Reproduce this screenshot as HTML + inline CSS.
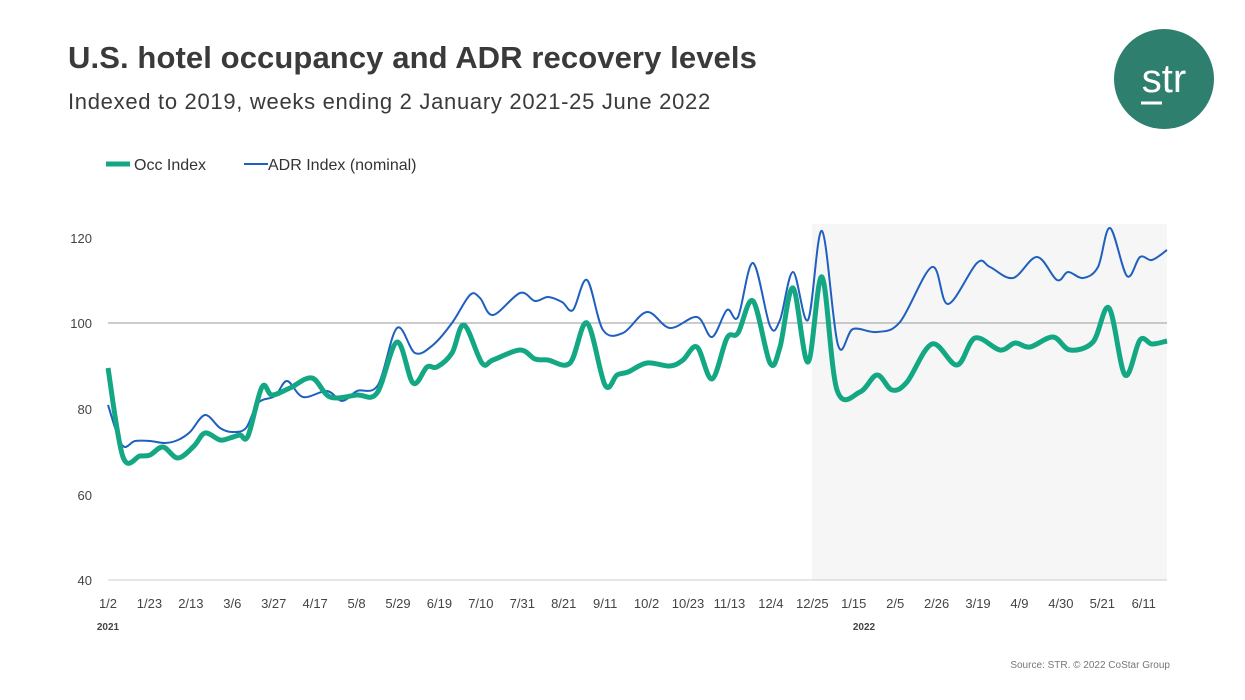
<!DOCTYPE html>
<html><head><meta charset="utf-8"><style>
body{margin:0;width:1245px;height:700px;background:#fff;font-family:"Liberation Sans",sans-serif;position:relative;overflow:hidden}
.t{position:absolute;color:#333}
</style></head><body>
<div class="t" style="left:68px;top:40px;font-size:31px;font-weight:bold;color:#3a3a3a;letter-spacing:0.1px">U.S. hotel occupancy and ADR recovery levels</div>
<div class="t" style="left:68px;top:89px;font-size:22px;color:#3a3a3a;letter-spacing:0.7px">Indexed to 2019, weeks ending 2 January 2021-25 June 2022</div>
<svg width="1245" height="700" style="position:absolute;left:0;top:0">
<circle cx="1164" cy="79" r="50" fill="#2e7f6e"/>
<text x="1164" y="92" font-size="40" fill="#fff" text-anchor="middle" font-family="Liberation Sans">str</text>
<line x1="1141" y1="103" x2="1162" y2="103" stroke="#fff" stroke-width="3"/>
<line x1="106" y1="164" x2="130" y2="164" stroke="#13a883" stroke-width="5"/>
<text x="134" y="170" font-size="16" fill="#333">Occ Index</text>
<line x1="244" y1="164" x2="268" y2="164" stroke="#1f5fbf" stroke-width="2"/>
<text x="268" y="170" font-size="16" fill="#333">ADR Index (nominal)</text>
<rect x="812" y="224" width="355" height="356" fill="#f6f6f6"/>
<line x1="108" y1="323" x2="1167" y2="323" stroke="#999" stroke-width="1"/>
<line x1="108" y1="580" x2="1167" y2="580" stroke="#ccc" stroke-width="1"/>
<g font-size="13" fill="#444" text-anchor="end">
<text x="92" y="243">120</text><text x="92" y="328">100</text><text x="92" y="414">80</text><text x="92" y="500">60</text><text x="92" y="585">40</text>
</g>
<g font-size="13" fill="#444" text-anchor="middle" id="xl"></g>
<text x="108" y="630" font-size="10" font-weight="bold" fill="#444" text-anchor="middle">2021</text>
<text x="864" y="630" font-size="10" font-weight="bold" fill="#444" text-anchor="middle">2022</text>
<path id="adr" fill="none" stroke="#1f5fbf" stroke-width="2"/>
<path id="occ" fill="none" stroke="#13a883" stroke-width="5" stroke-linejoin="round"/>
<text x="1170" y="668" font-size="10" fill="#777" text-anchor="end">Source: STR. © 2022 CoStar Group</text>
</svg>
<script>
function cr(p){let d="M"+p[0][0]+","+p[0][1];for(let i=0;i<p.length-1;i++){const a=p[Math.max(i-1,0)],b=p[i],c=p[i+1],e=p[Math.min(i+2,p.length-1)];d+=" C"+(b[0]+(c[0]-a[0])/6)+","+(b[1]+(c[1]-a[1])/6)+" "+(c[0]-(e[0]-b[0])/6)+","+(c[1]-(e[1]-b[1])/6)+" "+c[0]+","+c[1];}return d;}
const occ=[[108,368],[123,457],[140,456],[150,455],[163,447],[178,458],[194,446],[205,433],[220,440],[230,438],[240,435],[248,436],[262,387],[272,395],[290,388],[312,378],[330,397],[357,395],[377,393],[397,342],[413,383],[427,367],[437,367],[452,353],[464,325],[482,363],[493,360],[520,350],[535,359],[548,360],[570,363],[587,323],[605,385],[617,375],[628,372],[647,363],[670,366],[683,360],[697,347],[712,379],[727,338],[738,333],[753,301],[770,363],[780,347],[793,288],[808,362],[822,277],[837,390],[860,392],[877,375],[892,390],[907,382],[932,344],[957,365],[975,338],[1000,350],[1015,343],[1030,347],[1053,337],[1070,350],[1093,342],[1109,308],[1125,375],[1140,340],[1152,344],[1167,341]];
const adr=[[108,405],[122,445],[135,441],[150,441],[165,443],[178,440],[190,432],[205,415],[220,428],[232,432],[246,428],[258,403],[275,396],[287,381],[303,397],[327,391],[342,401],[357,391],[378,385],[397,328],[415,353],[433,345],[452,323],[470,295],[480,298],[493,315],[520,293],[535,301],[548,297],[562,302],[573,310],[587,280],[603,330],[623,333],[647,312],[670,328],[697,317],[712,337],[727,310],[738,317],[753,263],[770,326],[780,320],[793,272],[808,320],[822,231],[838,345],[853,329],[877,332],[900,322],[932,267],[948,304],[977,263],[990,267],[1013,278],[1037,257],[1057,280],[1068,272],[1083,278],[1098,267],[1110,228],[1127,276],[1140,257],[1152,260],[1167,250]];
document.getElementById("occ").setAttribute("d",cr(occ));
document.getElementById("adr").setAttribute("d",cr(adr));
const L=["1/2","1/23","2/13","3/6","3/27","4/17","5/8","5/29","6/19","7/10","7/31","8/21","9/11","10/2","10/23","11/13","12/4","12/25","1/15","2/5","2/26","3/19","4/9","4/30","5/21","6/11"];
let s="";L.forEach((t,i)=>{s+='<text x="'+(108+i*3*13.81)+'" y="608">'+t+'</text>';});
document.getElementById("xl").innerHTML=s;
</script>
</body></html>
